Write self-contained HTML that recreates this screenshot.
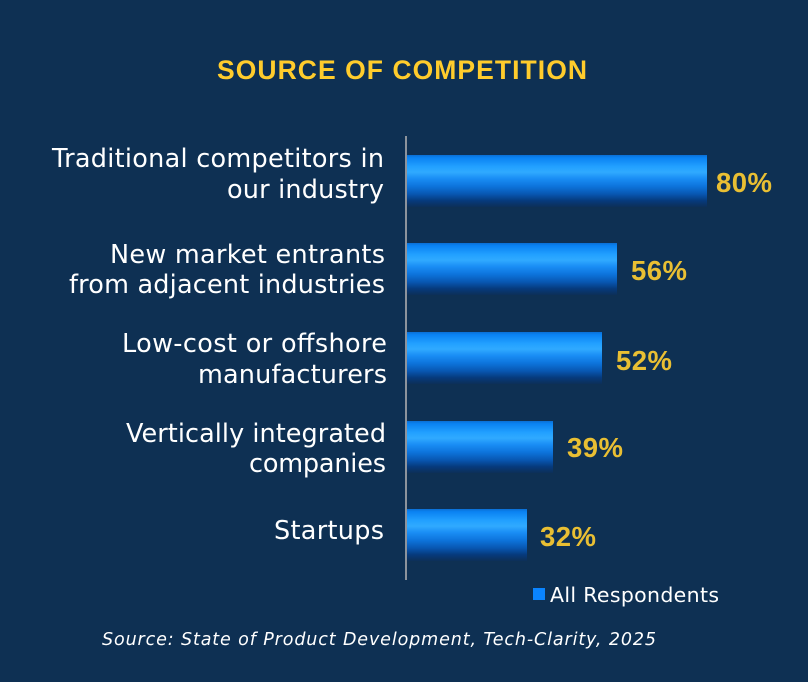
<!DOCTYPE html>
<html>
<head>
<meta charset="utf-8">
<style>
  html,body{margin:0;padding:0;background:#0e3053;}
  svg{display:block;}
</style>
</head>
<body>
<svg width="808" height="682" viewBox="0 0 808 682" xmlns="http://www.w3.org/2000/svg">
  <defs>
    <linearGradient id="bar" x1="0" y1="0" x2="0" y2="1">
      <stop offset="0" stop-color="#0b6fd4"/>
      <stop offset="0.05" stop-color="#0a82f2"/>
      <stop offset="0.22" stop-color="#22a0ff"/>
      <stop offset="0.33" stop-color="#30aaff"/>
      <stop offset="0.45" stop-color="#1a8ef5"/>
      <stop offset="0.6" stop-color="#0d74dc"/>
      <stop offset="0.75" stop-color="#0857b2"/>
      <stop offset="0.88" stop-color="#063a7c"/>
      <stop offset="1" stop-color="#0c2f58"/>
    </linearGradient>
  </defs>
  <rect x="0" y="0" width="808" height="682" fill="#0e3053"/>

  <!-- Title -->
  <text x="217" y="79" font-family="Liberation Sans, Arial, sans-serif" font-weight="bold" font-size="26.5" fill="#ffcc2c" textLength="370">SOURCE OF COMPETITION</text>

  <!-- Bars -->
  <rect x="407" y="155" width="300" height="52" fill="url(#bar)"/>
  <rect x="407" y="243" width="210" height="52" fill="url(#bar)"/>
  <rect x="407" y="332" width="195" height="52" fill="url(#bar)"/>
  <rect x="407" y="421" width="146" height="52" fill="url(#bar)"/>
  <rect x="407" y="509" width="120" height="52" fill="url(#bar)"/>

  <!-- Axis -->
  <rect x="405" y="136" width="2" height="444" fill="#8c939c"/>

  <!-- Category labels -->
  <g font-family="DejaVu Sans, Verdana, sans-serif" font-size="25.5" fill="#ffffff">
    <text x="52" y="167" textLength="332">Traditional competitors in</text>
    <text x="227" y="198" textLength="157">our industry</text>
    <text x="110" y="263" textLength="275">New market entrants</text>
    <text x="69" y="293" textLength="316">from adjacent industries</text>
    <text x="122" y="352" textLength="265">Low-cost or offshore</text>
    <text x="198" y="383" textLength="189">manufacturers</text>
    <text x="126" y="442" textLength="260">Vertically integrated</text>
    <text x="249" y="472" textLength="137">companies</text>
    <text x="274" y="539" textLength="110">Startups</text>
  </g>

  <!-- Values -->
  <g font-family="Liberation Sans, Arial, sans-serif" font-weight="bold" font-size="27.5" fill="#e9bf33">
    <text x="716" y="192" textLength="56">80%</text>
    <text x="631" y="280" textLength="56">56%</text>
    <text x="616" y="370" textLength="56">52%</text>
    <text x="567" y="457" textLength="56">39%</text>
    <text x="540" y="546" textLength="56">32%</text>
  </g>

  <!-- Legend -->
  <rect x="533" y="588" width="12" height="12" fill="#0a84ff"/>
  <text x="550" y="602" font-family="DejaVu Sans, Verdana, sans-serif" font-size="20.5" fill="#ffffff" textLength="169">All Respondents</text>

  <!-- Source -->
  <text x="102" y="645" font-family="DejaVu Sans, Verdana, sans-serif" font-style="italic" font-size="17.5" fill="#ffffff" textLength="554">Source: State of Product Development, Tech-Clarity, 2025</text>
</svg>
</body>
</html>
